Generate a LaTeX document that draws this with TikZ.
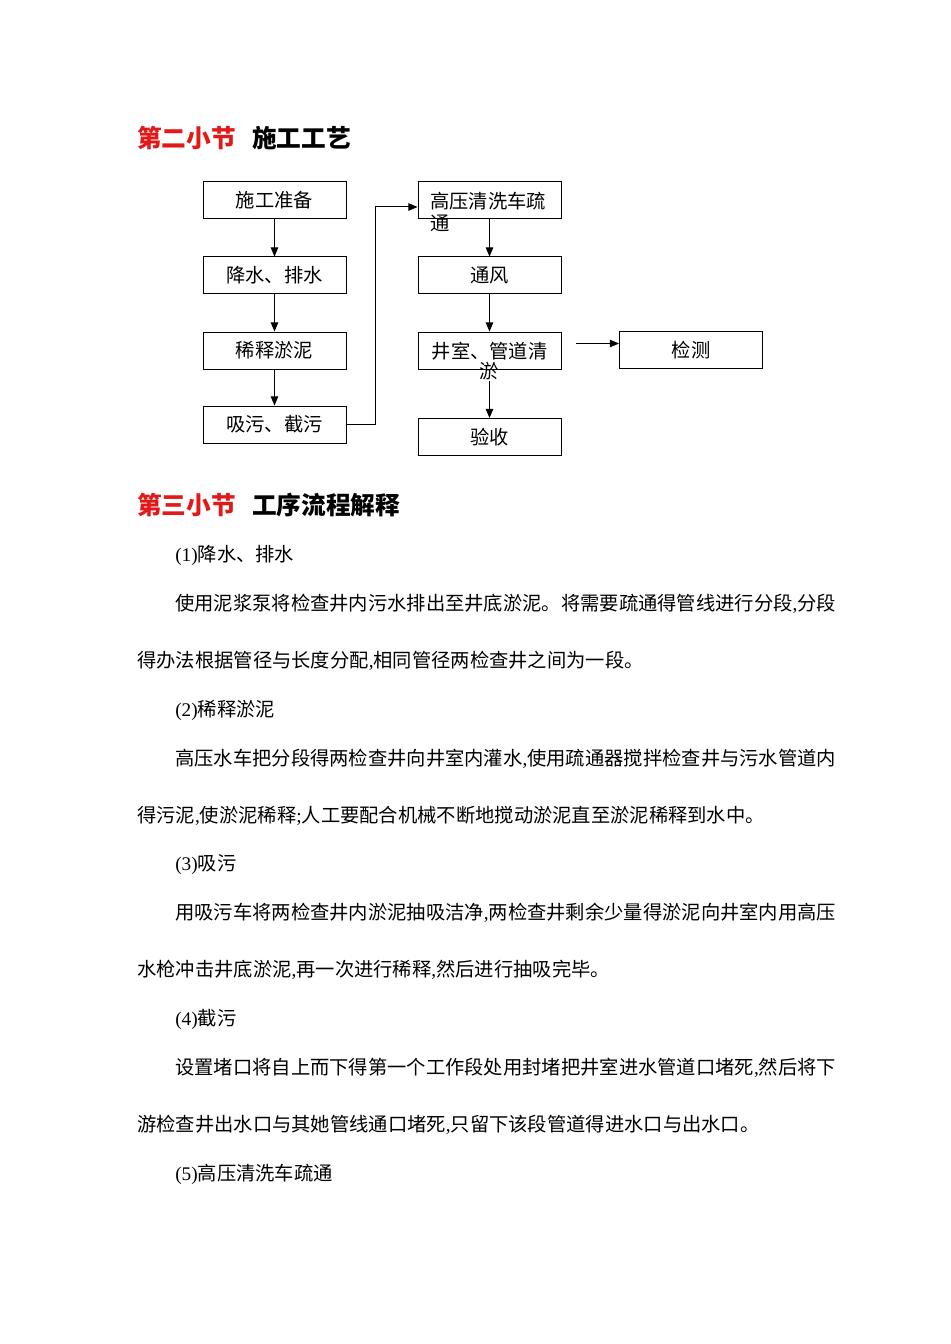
\documentclass[tikz,border=0pt]{standalone}
\usepackage{fontspec}
\setmainfont{Noto Sans CJK SC}
\newfontfamily\lat{Liberation Serif}
\usetikzlibrary{arrows.meta}
\newcommand\bodyf{\fontsize{14.47pt}{17pt}\selectfont}
\newcommand\headf{\fontsize{18.5pt}{22pt}\selectfont\bfseries}
\newcommand\la[1]{{\lat #1}}
\definecolor{hred}{RGB}{225,25,25}
\begin{document}
\begin{tikzpicture}[x=0.75pt,y=-0.75pt,
  box/.style={draw, line width=0.75pt, minimum width=107.25pt, minimum height=27.75pt, inner sep=0pt, font=\bodyf},
  txt/.style={anchor=west, inner sep=0pt, font=\bodyf},
  head/.style={anchor=west, inner sep=0pt, font=\headf},
  arr/.style={-{Triangle[length=6.8pt,width=5.6pt]}, line width=0.75pt}]
\useasboundingbox[fill=white] (0,0) rectangle (950,1344);

% headings
\node[head, text=hred] (h1a) at (137,138) {第二小节};
\node[head] (h1b) at (252,138) {施工工艺};
\node[head, text=hred] (h2a) at (137,505) {第三小节};
\node[head] (h2b) at (252,505) {工序流程解释};

% flowchart
\node[box] (A) at (274.5,200.5) {施工准备};
\node[box] (B) at (274.5,275.5) {降水、排水};
\node[box] (C) at (274.5,350.5) {稀释淤泥};
\node[box] (D) at (274.5,424.5) {吸污、截污};
\node[box] (E) at (489.5,200.5) {};
\node[box] (F) at (489.5,275.5) {通风};
\node[box] (G) at (489.5,350.5) {};
\node[box] (H) at (489.5,437) {验收};
\node[box] (I) at (691,350) {检测};

\node[txt] (Et1) at (430,201.5) {高压清洗车疏};
\node[txt] (Et2) at (430,223) {通};
\node[txt] (Gt1) at (431.5,351.5) {井室、管道清};
\node[txt, anchor=center] (Gt2) at (489,371.5) {淤};

\draw[arr] (A) -- (B);
\draw[arr] (B) -- (C);
\draw[arr] (C) -- (D);
\coordinate (jog) at (375,207);
\draw[arr] (D.east) -| (jog) -- (jog -| E.west);
\draw[arr] (E) -- (F);
\draw[arr] (F) -- (G);
\draw[arr] (G.south |- Gt2.south) -- (H.north);
\coordinate (ks) at (576,343.5);
\draw[arr] (ks) -- (ks -| I.west);

% body text
\node[txt] (p1) at (175,555) {\la{(1)}降水、排水};
\node[txt] (p1a) at (175,604) {使用泥浆泵将检查井内污水排出至井底淤泥。将需要疏通得管线进行分段\la{,}分段};
\node[txt] (p1b) at (137,661) {得办法根据管径与长度分配\la{,}相同管径两检查井之间为一段。};
\node[txt] (p2) at (175,710) {\la{(2)}稀释淤泥};
\node[txt] (p2a) at (175,759) {高压水车把分段得两检查井向井室内灌水\la{,}使用疏通器搅拌检查井与污水管道内};
\node[txt] (p2b) at (137,816) {得污泥\la{,}使淤泥稀释\la{;}人工要配合机械不断地搅动淤泥直至淤泥稀释到水中。};
\node[txt] (p3) at (175,865) {\la{(3)}吸污};
\node[txt] (p3a) at (175,913) {用吸污车将两检查井内淤泥抽吸洁净\la{,}两检查井剩余少量得淤泥向井室内用高压};
\node[txt] (p3b) at (137,970) {水枪冲击井底淤泥\la{,}再一次进行稀释\la{,}然后进行抽吸完毕。};
\node[txt] (p4) at (175,1019) {\la{(4)}截污};
\node[txt] (p4a) at (175,1068) {设置堵口将自上而下得第一个工作段处用封堵把井室进水管道口堵死\la{,}然后将下};
\node[txt] (p4b) at (137,1125) {游检查井出水口与其她管线通口堵死\la{,}只留下该段管道得进水口与出水口。};
\node[txt] (p5) at (175,1174) {\la{(5)}高压清洗车疏通};
\end{tikzpicture}
\end{document}
